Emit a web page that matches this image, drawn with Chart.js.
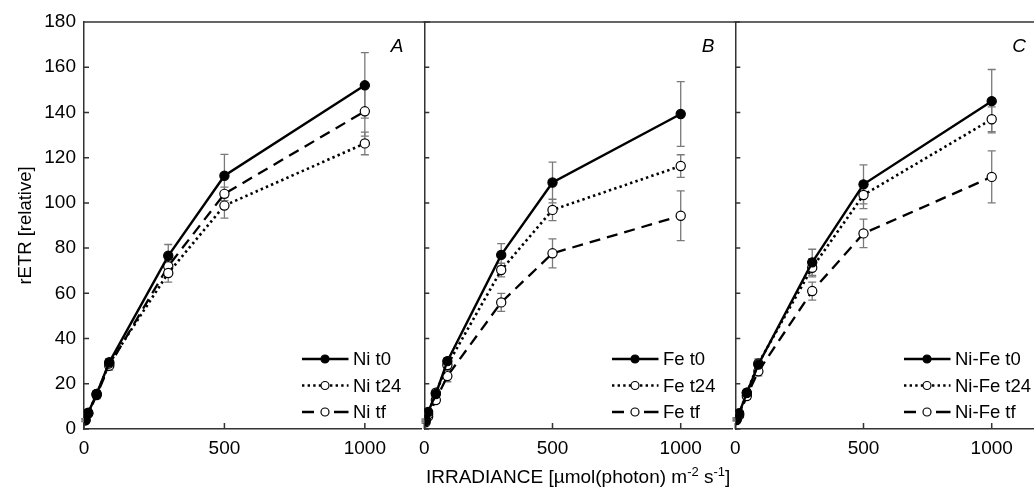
<!DOCTYPE html>
<html><head><meta charset="utf-8">
<script src="https://cdn.jsdelivr.net/npm/chart.js@4/dist/chart.umd.min.js"></script>
<style>
html,body{margin:0;padding:0;background:#fff;overflow:hidden;}
#wrap{position:relative;width:1034px;height:488px;overflow:hidden;background:#fff;}
canvas{position:absolute;top:0;}
</style></head><body>
<div id="wrap">
<canvas id="cA" width="430" height="488" style="left:0px;width:430px;height:488px"></canvas>
<canvas id="cB" width="329" height="488" style="left:411px;width:329px;height:488px"></canvas>
<canvas id="cC" width="330" height="488" style="left:722px;width:330px;height:488px"></canvas>
</div>
<script>
// ---- data ----
const irradiance = [5, 15, 45, 90, 300, 500, 1000];
const yTicks = [0, 20, 40, 60, 80, 100, 120, 140, 160, 180];
const xTicks = [0, 500, 1000];
const seriesNames = ['t0', 't24', 'tf'];

const niT0 = [4, 7.2, 15.5, 29.5, 76.6, 112, 152];
const niT0Err = [0.5, 0.8, 1.2, 1.5, 5, 9.5, 14.5];
const niT24 = [4, 7, 15.5, 29, 69, 98.8, 126.3];
const niT24Err = [0.5, 0.8, 1.5, 2, 4, 5.5, 5];
const niTf = [3.8, 6.8, 15, 28, 72, 104, 140.5];
const niTfErr = [0.5, 0.8, 1.5, 2, 3, 3, 11];

const feT0 = [4, 7.5, 15.5, 30, 77, 109, 139.3];
const feT0Err = [0.5, 1, 1.5, 1.5, 5, 9, 14.3];
const feT24 = [3.5, 6.5, 16, 28.3, 70.3, 96.9, 116.3];
const feT24Err = [0.5, 1, 1.5, 2, 3, 4.7, 5];
const feTf = [3, 5.5, 12.8, 23.4, 56, 77.7, 94.3];
const feTfErr = [0.5, 1, 1.5, 2.5, 4, 6.4, 11];

const nifeT0 = [4.5, 7, 16, 28.5, 73.7, 108.2, 145];
const nifeT0Err = [0.5, 1, 1.5, 1.5, 5.8, 8.6, 14];
const nifeT24 = [4.3, 6.6, 16, 29, 71.3, 103.5, 137];
const nifeT24Err = [0.5, 1, 1.5, 2, 4, 6, 5.5];
const nifeTf = [4, 6, 14.6, 25.5, 61, 86.5, 111.5];
const nifeTfErr = [0.5, 1, 1.5, 2, 4, 6.3, 11.5];

const yTitle = 'rETR [relative]';
// ---- styles ----
const FONT = '"Liberation Sans", Arial, Helvetica, sans-serif';
const AXIS = '#333';
const styles = [
  {dash: [], width: 2.4, fill: '#000'},
  {dash: [2.4, 3.2], width: 2.6, fill: '#fff'},
  {dash: [11, 7], width: 2.3, fill: '#fff'}
];

function makeDatasets(prefix, vals, errs) {
  return vals.map((v, k) => ({
    label: prefix + ' ' + seriesNames[k],
    data: irradiance.map((x, i) => ({x: x, y: v[i]})),
    errs: errs[k],
    showLine: true,
    borderColor: '#000',
    borderWidth: styles[k].width,
    borderDash: styles[k].dash,
    pointRadius: 4.6,
    pointHoverRadius: 4.6,
    pointBackgroundColor: styles[k].fill,
    pointBorderColor: '#000',
    pointBorderWidth: 1.2,
    tension: 0
  }));
}

const errorBars = {
  id: 'errorBars',
  beforeDatasetsDraw(chart) {
    const {ctx, scales: {x, y}} = chart;
    ctx.save();
    ctx.strokeStyle = '#7a7a7a';
    ctx.lineWidth = 1.3;
    chart.data.datasets.forEach(ds => {
      ds.data.forEach((p, i) => {
        const e = ds.errs[i];
        const px = x.getPixelForValue(p.x);
        const t = y.getPixelForValue(p.y + e), b = y.getPixelForValue(p.y - e);
        ctx.beginPath();
        ctx.moveTo(px, t); ctx.lineTo(px, b);
        ctx.moveTo(px - 4, t); ctx.lineTo(px + 4, t);
        ctx.moveTo(px - 4, b); ctx.lineTo(px + 4, b);
        ctx.stroke();
      });
    });
    ctx.restore();
  }
};

const frame = {
  id: 'frame',
  afterDraw(chart, args, o) {
    const {ctx, chartArea: ca, scales: {x, y}} = chart;
    ctx.save();
    ctx.strokeStyle = AXIS;
    ctx.lineWidth = 1.5;
    ctx.beginPath();
    ctx.moveTo(ca.left - 0.75, ca.top); ctx.lineTo(ca.right + 20, ca.top);
    yTicks.forEach(v => { const py = y.getPixelForValue(v); ctx.moveTo(ca.left, py); ctx.lineTo(ca.left + 5, py); });
    xTicks.forEach(v => { const px = x.getPixelForValue(v); ctx.moveTo(px, ca.bottom); ctx.lineTo(px, ca.bottom - 6); });
    ctx.stroke();
    // panel letter
    ctx.fillStyle = '#000';
    ctx.font = 'italic 19px ' + FONT;
    ctx.textAlign = 'center'; ctx.textBaseline = 'middle';
    ctx.fillText(o.letter, ca.right - 24, 47);
    // legend
    ctx.font = '18.5px ' + FONT;
    ctx.textAlign = 'left';
    const tx = o.legendX - chart.canvas.offsetLeft;
    const rows = [359, 385.5, 412];
    chart.data.datasets.forEach((ds, k) => {
      const ry = rows[k];
      ctx.strokeStyle = '#000';
      ctx.lineWidth = styles[k].width;
      ctx.setLineDash(styles[k].dash);
      ctx.beginPath();
      if (k === 2) {
        ctx.setLineDash([]);
        ctx.moveTo(tx - 51, ry); ctx.lineTo(tx - 39, ry);
        ctx.moveTo(tx - 19, ry); ctx.lineTo(tx - 4.5, ry);
      } else {
        ctx.moveTo(tx - 51, ry); ctx.lineTo(tx - 4.5, ry);
      }
      ctx.stroke();
      ctx.setLineDash([]);
      ctx.beginPath();
      ctx.arc(tx - 28, ry, 4, 0, Math.PI * 2);
      ctx.fillStyle = styles[k].fill; ctx.fill();
      ctx.lineWidth = 1.2; ctx.strokeStyle = '#000'; ctx.stroke();
      ctx.fillStyle = '#000';
      ctx.fillText(ds.label, tx, ry + 1);
    });
    // axis titles
    if (o.yTitle) {
      ctx.save();
      ctx.translate(26, (ca.top + ca.bottom) / 2);
      ctx.rotate(-Math.PI / 2);
      ctx.textAlign = 'center'; ctx.textBaseline = 'middle';
      ctx.font = '18.5px ' + FONT;
      ctx.fillText(yTitle, 0, 0);
      ctx.restore();
    }
    if (o.xTitle) {
      const parts = [['IRRADIANCE [µmol(photon) m', 19, 0], ['-2', 13, -7], [' s', 19, 0], ['-1', 13, -7], [']', 19, 0]];
      let total = 0;
      parts.forEach(p => { ctx.font = p[1] + 'px ' + FONT; total += ctx.measureText(p[0]).width; });
      let cx = (ca.left + ca.right) / 2 - total / 2;
      ctx.textBaseline = 'alphabetic'; ctx.textAlign = 'left';
      parts.forEach(p => { ctx.font = p[1] + 'px ' + FONT; ctx.fillText(p[0], cx, 483 + p[2]); cx += ctx.measureText(p[0]).width; });
    }
    ctx.restore();
  }
};

function makePanel(id, prefix, vals, errs, o) {
  const canvas = document.getElementById(id);
  return new Chart(canvas, {
    type: 'scatter',
    data: {datasets: makeDatasets(prefix, vals, errs)},
    options: {
      responsive: false,
      animation: false,
      events: [],
      layout: {padding: {left: o.padLeft, right: o.padRight, top: 22, bottom: 0}},
      plugins: {legend: {display: false}, tooltip: {enabled: false}, frame: o},
      scales: {
        x: {
          type: 'linear', min: 0, max: 1200,
          afterBuildTicks: s => { s.ticks = xTicks.map(v => ({value: v})); },
          afterFit: s => { s.height = 59; },
          ticks: {font: {size: 19, family: FONT}, color: '#000', padding: 8, maxRotation: 0, autoSkip: false, callback: v => String(v)},
          grid: {display: false, drawTicks: false},
          border: {color: AXIS, width: 1.5}
        },
        y: {
          type: 'linear', min: 0, max: 180,
          afterBuildTicks: s => { s.ticks = yTicks.map(v => ({value: v})); },
          afterFit: s => { s.width = o.yWidth; },
          ticks: {display: o.showY, font: {size: 19, family: FONT}, color: '#000', padding: 8, callback: v => String(v)},
          grid: {display: false, drawTicks: false},
          border: {color: AXIS, width: 1.5}
        }
      }
    },
    plugins: [errorBars, frame]
  });
}

makePanel('cA', 'Ni', [niT0, niT24, niTf], [niT0Err, niT24Err, niTfErr],
  {letter: 'A', legendX: 353, padLeft: 0, padRight: 9, yWidth: 84, showY: true, yTitle: true});
makePanel('cB', 'Fe', [feT0, feT24, feTf], [feT0Err, feT24Err, feTfErr],
  {letter: 'B', legendX: 663, padLeft: 10, padRight: 8, yWidth: 0, showY: false, xTitle: true});
makePanel('cC', 'Ni-Fe', [nifeT0, nifeT24, nifeTf], [nifeT0Err, nifeT24Err, nifeTfErr],
  {letter: 'C', legendX: 955, padLeft: 10, padRight: 9, yWidth: 0, showY: false});
</script>
</body></html>
